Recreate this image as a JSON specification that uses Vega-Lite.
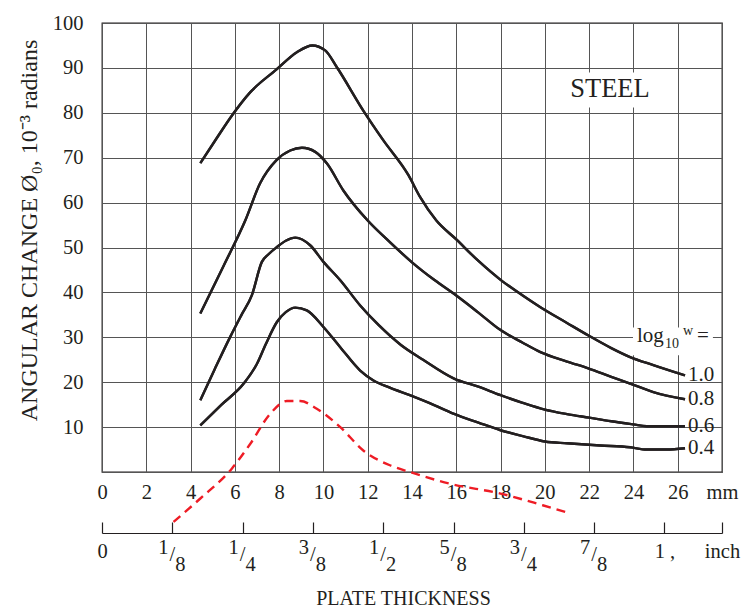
{
  "$schema": "https://vega.github.io/schema/vega-lite/v6.json",
  "width": 620,
  "height": 449,
  "autosize": {"type": "none"},
  "padding": {"left": 102, "top": 23, "right": 21, "bottom": 139},
  "background": "white",
  "config": {
    "font": "Liberation Serif",
    "view": {"stroke": "#231f20", "strokeWidth": 1.3},
    "axis": {
      "labelFont": "Liberation Serif",
      "titleFont": "Liberation Serif",
      "labelColor": "#231f20",
      "titleColor": "#231f20",
      "labelFontSize": 20.5,
      "titleFontSize": 20,
      "titleFontWeight": "normal"
    },
    "text": {"font": "Liberation Serif", "color": "#231f20"}
  },
  "datasets": {
    "curves": [
      {"w": "1.0", "mm": 4.44, "v": 68.8}, {"w": "1.0", "mm": 5.2, "v": 74.5}, {"w": "1.0", "mm": 5.87, "v": 79.4}, {"w": "1.0", "mm": 6.7, "v": 84.6}, {"w": "1.0", "mm": 7.87, "v": 89.6}, {"w": "1.0", "mm": 8.8, "v": 93.5}, {"w": "1.0", "mm": 9.5, "v": 95.0}, {"w": "1.0", "mm": 10.08, "v": 93.9}, {"w": "1.0", "mm": 10.6, "v": 90.2}, {"w": "1.0", "mm": 11.8, "v": 80.5}, {"w": "1.0", "mm": 12.7, "v": 73.9}, {"w": "1.0", "mm": 13.84, "v": 66.1}, {"w": "1.0", "mm": 14.37, "v": 61.2}, {"w": "1.0", "mm": 15.1, "v": 56.0}, {"w": "1.0", "mm": 16.0, "v": 51.8}, {"w": "1.0", "mm": 17.0, "v": 47.0}, {"w": "1.0", "mm": 18.0, "v": 42.8}, {"w": "1.0", "mm": 19.0, "v": 39.3}, {"w": "1.0", "mm": 19.8, "v": 36.7}, {"w": "1.0", "mm": 21.0, "v": 33.2}, {"w": "1.0", "mm": 21.97, "v": 30.4}, {"w": "1.0", "mm": 23.0, "v": 27.6}, {"w": "1.0", "mm": 23.85, "v": 25.6}, {"w": "1.0", "mm": 24.9, "v": 23.8}, {"w": "1.0", "mm": 26.33, "v": 21.5},
      {"w": "0.8", "mm": 4.44, "v": 35.3}, {"w": "0.8", "mm": 5.5, "v": 46.0}, {"w": "0.8", "mm": 6.47, "v": 56.0}, {"w": "0.8", "mm": 7.14, "v": 64.3}, {"w": "0.8", "mm": 7.87, "v": 69.4}, {"w": "0.8", "mm": 8.5, "v": 71.6}, {"w": "0.8", "mm": 9.03, "v": 72.2}, {"w": "0.8", "mm": 9.63, "v": 71.3}, {"w": "0.8", "mm": 10.16, "v": 68.7}, {"w": "0.8", "mm": 10.9, "v": 62.7}, {"w": "0.8", "mm": 12.0, "v": 56.0}, {"w": "0.8", "mm": 13.0, "v": 51.2}, {"w": "0.8", "mm": 14.0, "v": 46.7}, {"w": "0.8", "mm": 15.0, "v": 42.8}, {"w": "0.8", "mm": 16.0, "v": 39.3}, {"w": "0.8", "mm": 17.0, "v": 35.5}, {"w": "0.8", "mm": 18.0, "v": 31.6}, {"w": "0.8", "mm": 19.0, "v": 28.8}, {"w": "0.8", "mm": 19.8, "v": 26.7}, {"w": "0.8", "mm": 21.0, "v": 24.6}, {"w": "0.8", "mm": 21.96, "v": 23.1}, {"w": "0.8", "mm": 23.0, "v": 21.2}, {"w": "0.8", "mm": 23.85, "v": 19.7}, {"w": "0.8", "mm": 24.9, "v": 17.8}, {"w": "0.8", "mm": 26.33, "v": 16.2},
      {"w": "0.6", "mm": 4.44, "v": 16.0}, {"w": "0.6", "mm": 5.1, "v": 23.0}, {"w": "0.6", "mm": 5.79, "v": 30.1}, {"w": "0.6", "mm": 6.3, "v": 35.0}, {"w": "0.6", "mm": 6.77, "v": 39.4}, {"w": "0.6", "mm": 7.22, "v": 46.8}, {"w": "0.6", "mm": 7.52, "v": 48.5}, {"w": "0.6", "mm": 7.9, "v": 50.1}, {"w": "0.6", "mm": 8.3, "v": 51.5}, {"w": "0.6", "mm": 8.73, "v": 52.2}, {"w": "0.6", "mm": 9.4, "v": 50.5}, {"w": "0.6", "mm": 10.0, "v": 46.8}, {"w": "0.6", "mm": 10.76, "v": 42.7}, {"w": "0.6", "mm": 11.66, "v": 37.1}, {"w": "0.6", "mm": 12.5, "v": 32.7}, {"w": "0.6", "mm": 13.5, "v": 28.3}, {"w": "0.6", "mm": 14.5, "v": 25.0}, {"w": "0.6", "mm": 15.9, "v": 20.8}, {"w": "0.6", "mm": 17.0, "v": 19.0}, {"w": "0.6", "mm": 18.0, "v": 17.1}, {"w": "0.6", "mm": 19.0, "v": 15.4}, {"w": "0.6", "mm": 20.0, "v": 13.9}, {"w": "0.6", "mm": 21.0, "v": 12.9}, {"w": "0.6", "mm": 22.0, "v": 12.1}, {"w": "0.6", "mm": 23.0, "v": 11.3}, {"w": "0.6", "mm": 24.0, "v": 10.6}, {"w": "0.6", "mm": 24.6, "v": 10.2}, {"w": "0.6", "mm": 26.33, "v": 10.2},
      {"w": "0.4", "mm": 4.44, "v": 10.4}, {"w": "0.4", "mm": 5.4, "v": 15.0}, {"w": "0.4", "mm": 6.4, "v": 19.7}, {"w": "0.4", "mm": 7.0, "v": 24.1}, {"w": "0.4", "mm": 7.4, "v": 28.5}, {"w": "0.4", "mm": 7.9, "v": 33.4}, {"w": "0.4", "mm": 8.3, "v": 35.6}, {"w": "0.4", "mm": 8.73, "v": 36.6}, {"w": "0.4", "mm": 9.25, "v": 36.0}, {"w": "0.4", "mm": 10.0, "v": 32.3}, {"w": "0.4", "mm": 10.76, "v": 27.8}, {"w": "0.4", "mm": 11.66, "v": 22.6}, {"w": "0.4", "mm": 12.26, "v": 20.4}, {"w": "0.4", "mm": 13.0, "v": 18.8}, {"w": "0.4", "mm": 13.9, "v": 17.1}, {"w": "0.4", "mm": 15.0, "v": 14.9}, {"w": "0.4", "mm": 15.87, "v": 13.0}, {"w": "0.4", "mm": 17.0, "v": 11.0}, {"w": "0.4", "mm": 18.0, "v": 9.3}, {"w": "0.4", "mm": 19.0, "v": 8.0}, {"w": "0.4", "mm": 20.0, "v": 6.8}, {"w": "0.4", "mm": 21.0, "v": 6.4}, {"w": "0.4", "mm": 22.5, "v": 5.9}, {"w": "0.4", "mm": 23.85, "v": 5.5}, {"w": "0.4", "mm": 24.6, "v": 5.0}, {"w": "0.4", "mm": 25.5, "v": 5.0}, {"w": "0.4", "mm": 26.33, "v": 5.3}
    ],
    "red": [
      {"mm": 3.23, "v": -11.1}, {"mm": 4.44, "v": -5.9}, {"mm": 5.87, "v": 0.8}, {"mm": 6.7, "v": 6.3}, {"mm": 7.6, "v": 13.0}, {"mm": 8.35, "v": 15.8}, {"mm": 8.95, "v": 15.8}, {"mm": 9.7, "v": 14.1}, {"mm": 10.76, "v": 10.0}, {"mm": 11.8, "v": 4.8}, {"mm": 13.0, "v": 1.5}, {"mm": 13.9, "v": 0.0}, {"mm": 15.7, "v": -2.6}, {"mm": 18.0, "v": -4.8}, {"mm": 19.9, "v": -7.4}, {"mm": 21.07, "v": -9.1}
    ],
    "ends": [
      {"w": "1.0", "mm": 26.33, "v": 21.5},
      {"w": "0.8", "mm": 26.33, "v": 16.2},
      {"w": "0.6", "mm": 26.33, "v": 10.2},
      {"w": "0.4", "mm": 26.33, "v": 5.3}
    ],
    "fractions": [
      {"inch": 0.125, "num": "1", "den": "8"},
      {"inch": 0.25, "num": "1", "den": "4"},
      {"inch": 0.375, "num": "3", "den": "8"},
      {"inch": 0.5, "num": "1", "den": "2"},
      {"inch": 0.625, "num": "5", "den": "8"},
      {"inch": 0.75, "num": "3", "den": "4"},
      {"inch": 0.875, "num": "7", "den": "8"}
    ]
  },
  "resolve": {"scale": {"x": "independent"}},
  "layer": [
    {
      "layer": [
        {
          "data": {"name": "curves"},
          "mark": {"type": "line", "color": "#231f20", "strokeWidth": 2.4, "interpolate": "monotone"},
          "encoding": {
            "x": {
              "field": "mm", "type": "quantitative",
              "scale": {"domain": [0, 28], "nice": false, "zero": true},
              "axis": {
                "orient": "bottom", "title": null,
                "values": [0, 2, 4, 6, 8, 10, 12, 14, 16, 18, 20, 22, 24, 26, 28],
                "labelExpr": "datum.value == 28 ? 'mm' : datum.label",
                "ticks": false, "tickSize": 0, "labelPadding": 10, "domain": false,
                "grid": true, "gridColor": "#555555", "gridWidth": 1,
                "labelFlush": false, "labelOverlap": false
              }
            },
            "y": {
              "field": "v", "type": "quantitative",
              "scale": {"domain": [0, 100], "nice": false, "zero": true},
              "axis": {
                "title": "ANGULAR CHANGE Ø₀, 10⁻³ radians",
                "titleFontSize": 24,
                "values": [0, 10, 20, 30, 40, 50, 60, 70, 80, 90, 100],
                "labelExpr": "datum.value == 0 ? '' : datum.label",
                "ticks": false, "tickSize": 0, "labelPadding": 19, "domain": false,
                "grid": true, "gridColor": "#555555", "gridWidth": 1,
                "titlePadding": 11, "titleY": 207, "labelFlush": false
              }
            },
            "detail": {"field": "w"}
          }
        },
        {
          "data": {"values": [{}]},
          "mark": {"type": "rect", "color": "white"},
          "encoding": {
            "x": {"datum": 20.91, "type": "quantitative"},
            "x2": {"datum": 24.97},
            "y": {"datum": 89.0, "type": "quantitative"},
            "y2": {"datum": 81.2}
          }
        },
        {
          "data": {"values": [{}]},
          "mark": {"type": "rect", "color": "white"},
          "encoding": {
            "x": {"datum": 23.98, "type": "quantitative"},
            "x2": {"datum": 27.59},
            "y": {"datum": 32.2, "type": "quantitative"},
            "y2": {"datum": 26.0}
          }
        },
        {
          "data": {"name": "curves"},
          "mark": {"type": "line", "color": "#231f20", "strokeWidth": 2.4, "interpolate": "monotone"},
          "encoding": {
            "x": {"field": "mm", "type": "quantitative"},
            "y": {"field": "v", "type": "quantitative"},
            "detail": {"field": "w"}
          }
        },
        {
          "data": {"name": "red"},
          "mark": {"type": "line", "color": "#ee1c25", "strokeWidth": 2.4, "strokeDash": [9, 6], "interpolate": "monotone", "clip": false},
          "encoding": {
            "x": {"field": "mm", "type": "quantitative"},
            "y": {"field": "v", "type": "quantitative"}
          }
        },
        {
          "data": {"name": "ends"},
          "mark": {"type": "text", "align": "left", "baseline": "middle", "dx": 3, "fontSize": 21},
          "encoding": {
            "x": {"field": "mm", "type": "quantitative"},
            "y": {"field": "v", "type": "quantitative"},
            "text": {"field": "w"}
          }
        },
        {
          "data": {"values": [{"label": "STEEL"}]},
          "mark": {"type": "text", "align": "center", "baseline": "middle", "fontSize": 26.5},
          "encoding": {
            "x": {"datum": 22.94, "type": "quantitative"},
            "y": {"datum": 85.2, "type": "quantitative"},
            "text": {"field": "label"}
          }
        },
        {
          "data": {"values": [{"label": "log"}]},
          "mark": {"type": "text", "align": "left", "baseline": "middle", "fontSize": 21},
          "encoding": {
            "x": {"datum": 24.16, "type": "quantitative"},
            "y": {"datum": 30.4, "type": "quantitative"},
            "text": {"field": "label"}
          }
        },
        {
          "data": {"values": [{"label": "10"}]},
          "mark": {"type": "text", "align": "left", "baseline": "middle", "fontSize": 14},
          "encoding": {
            "x": {"datum": 25.43, "type": "quantitative"},
            "y": {"datum": 28.4, "type": "quantitative"},
            "text": {"field": "label"}
          }
        },
        {
          "data": {"values": [{"label": "w"}]},
          "mark": {"type": "text", "align": "left", "baseline": "middle", "fontSize": 14},
          "encoding": {
            "x": {"datum": 26.24, "type": "quantitative"},
            "y": {"datum": 31.4, "type": "quantitative"},
            "text": {"field": "label"}
          }
        },
        {
          "data": {"values": [{"label": "="}]},
          "mark": {"type": "text", "align": "left", "baseline": "middle", "fontSize": 21},
          "encoding": {
            "x": {"datum": 26.87, "type": "quantitative"},
            "y": {"datum": 30.4, "type": "quantitative"},
            "text": {"field": "label"}
          }
        }
      ]
    },
    {
      "data": {"name": "fractions"},
      "layer": [
        {
          "mark": {"type": "text", "align": "center", "baseline": "middle", "fontSize": 20.5, "dx": -9, "dy": -4},
          "encoding": {
            "x": {
              "field": "inch", "type": "quantitative",
              "scale": {"domain": [0, 1.10236], "nice": false, "zero": true},
              "axis": {
                "orient": "bottom", "offset": 61, "title": "PLATE THICKNESS",
                "values": [0, 0.125, 0.25, 0.375, 0.5, 0.625, 0.75, 0.875, 1, 1.10236],
                "labelExpr": "datum.value == 0 ? '0' : (datum.value == 1 ? '1 ,' : (datum.value > 1.05 ? 'inch' : ''))",
                "ticks": true, "tickSize": -11, "tickColor": "#231f20", "tickWidth": 1.2,
                "domain": true, "domainColor": "#231f20", "domainWidth": 1.2,
                "labelPadding": 19, "grid": false, "labelFlush": false, "labelOverlap": false,
                "titlePadding": 27, "titleX": 301
              }
            },
            "y": {"datum": -17.8, "type": "quantitative"},
            "text": {"field": "num"}
          }
        },
        {
          "mark": {"type": "text", "align": "center", "baseline": "middle", "fontSize": 20.5, "dx": 0, "dy": 3},
          "encoding": {
            "x": {"field": "inch", "type": "quantitative"},
            "y": {"datum": -17.8, "type": "quantitative"},
            "text": {"value": "/"}
          }
        },
        {
          "mark": {"type": "text", "align": "center", "baseline": "middle", "fontSize": 20.5, "dx": 8, "dy": 13},
          "encoding": {
            "x": {"field": "inch", "type": "quantitative"},
            "y": {"datum": -17.8, "type": "quantitative"},
            "text": {"field": "den"}
          }
        }
      ]
    }
  ]
}
